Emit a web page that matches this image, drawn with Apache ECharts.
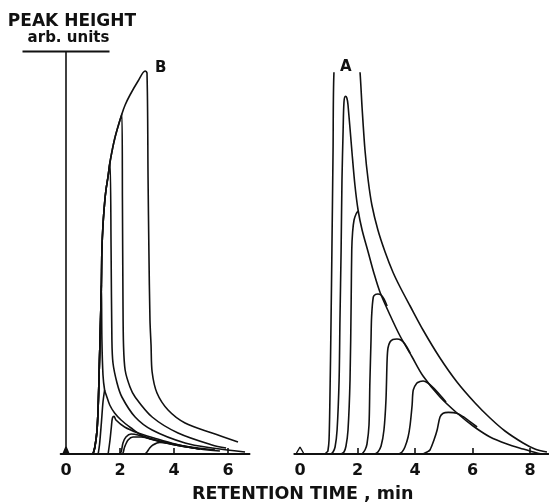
<!DOCTYPE html>
<html lang="en">
<head>
  <meta charset="UTF-8">
  <title>Peak height vs retention time</title>
  <style>
    html, body { margin: 0; padding: 0; background: #fff; }
    #chart { width: 549px; height: 502px; }
  </style>
</head>
<body>
  <div id="chart"></div>

  <script src="https://cdn.jsdelivr.net/npm/echarts@6/dist/echarts.min.js"></script>
  <script>
    // axis ticks / labels (retention time, min)
    const labelsB = [0, 2, 4, 6];
    const ticksB = [2, 4, 6];
    const labelsA = [0, 2, 4, 6, 8];
    const ticksA = [2, 4, 6, 8];

    // panel B: common diffuse front, each peak leaves it at its maximum
    const frontB = [[1.00, 0], [1.07, 1.75], [1.15, 6], [1.20, 13.5], [1.24, 23.5], [1.28, 33.5],
      [1.31, 42.25], [1.33, 51], [1.37, 57.25], [1.43, 62.75], [1.48, 66], [1.56, 69.5], [1.63, 73],
      [1.81, 79], [2.07, 85], [2.19, 87.25], [2.37, 89.75], [2.67, 93.25], [2.93, 95.75]];
    const topsB = [2.93, 2.07, 1.63, 1.31];
    const tailB1 = [[3.00, 95.25], [3.04, 68.5], [3.07, 51], [3.11, 33.5], [3.15, 27.25], [3.19, 20.5],
      [3.37, 15.25], [3.78, 11], [4.41, 7.75], [5.41, 5.25], [6.37, 3.0]];
    const tailB2 = [[2.09, 63.5], [2.11, 38.5], [2.13, 27.25], [2.19, 21], [2.37, 16.75], [2.56, 14.25],
      [3.19, 9.25], [4.15, 5.25], [5.41, 2.25], [5.93, 1.5]];
    const tailB3 = [[1.67, 51], [1.70, 28.5], [1.74, 22.75], [1.89, 17.75], [2.07, 14.25], [2.56, 9.25],
      [3.19, 6], [4.41, 2.75], [5.41, 1.5], [6.63, 0.5]];
    const tailB4 = [[1.33, 28.5], [1.37, 19.75], [1.43, 16], [1.49, 14.75], [1.62, 12.25], [1.80, 10.25],
      [2.04, 8.5], [2.41, 6.5], [2.78, 4.75], [3.29, 3.5], [3.78, 2.75], [4.59, 1.75], [5.52, 1]];
    const peakB5 = [[1.19, 0], [1.24, 2.25], [1.31, 7.75], [1.37, 13], [1.43, 16]];
    const peakB6 = [[1.56, 0], [1.63, 3.5], [1.68, 6.75], [1.72, 9], [1.78, 9.4], [1.85, 8.5], [2.17, 6.75],
      [2.67, 5.25], [3.26, 4], [4.04, 2.5], [4.96, 1.25]];
    const peakB7 = [[1.96, 0], [2.04, 0.5], [2.11, 2.75], [2.22, 4.25], [2.41, 5], [2.67, 4.75], [3.11, 3.75],
      [3.85, 2.5], [4.96, 1.25]];
    const peakB8 = [[2.04, 0], [2.11, 0.25], [2.17, 1.75], [2.30, 3.5], [2.48, 4.25], [2.78, 4.25], [3.30, 3.5],
      [4.04, 2.25], [4.96, 1.25]];
    const peakB9 = [[2.93, 0], [3.00, 0.5], [3.10, 1.5], [3.22, 2.25], [3.47, 2.9], [3.78, 2.75], [4.30, 2],
      [4.96, 1.25], [5.70, 0.75]];
    const injectB = [[-0.11, 0], [0, 1.75], [0.11, 0]];

    // panel A: sharp fronts, tails on a common envelope (A1 runs off scale)
    const peakA1 = [[0.87, 0], [0.94, 0.5], [0.97, 0.75], [1.01, 3.5], [1.04, 13.5], [1.08, 33.5], [1.11, 51],
      [1.15, 76], [1.18, 95.25], [1.63, 138.5], [2.09, 95.25], [2.16, 86.5], [2.26, 76], [2.37, 68.5],
      [2.50, 62.25], [2.71, 56], [2.96, 50.5], [3.23, 45.5], [3.48, 41.75], [3.83, 37], [4.28, 31],
      [4.87, 24], [5.46, 18], [6.09, 12.75], [6.61, 9], [7.13, 5.75], [7.76, 2.75], [8.17, 1.25], [8.59, 0.5]];
    const peakA2 = [[1.08, 0], [1.15, 0.5], [1.22, 1.75], [1.29, 6], [1.36, 18.5], [1.39, 33.5], [1.43, 51],
      [1.46, 68.5], [1.50, 81], [1.53, 88], [1.58, 89.4], [1.63, 89], [1.67, 87.25], [1.81, 75.25], [1.91, 67.25],
      [2.02, 61], [2.16, 56], [2.37, 50.5], [2.57, 45.25], [2.78, 40.5], [3.13, 34.75], [3.48, 29.5], [3.90, 24.25],
      [4.28, 19.5], [4.87, 14.25], [5.46, 10.25], [6.02, 7], [6.61, 4.25], [7.20, 2.5], [7.76, 1.25],
      [8.24, 0.25], [8.42, 0]];
    const peakA3 = [[1.43, 0], [1.53, 0.5], [1.60, 2], [1.67, 6], [1.74, 18.5], [1.78, 38.5], [1.80, 51],
      [1.83, 55.5], [1.88, 58.5], [1.95, 60], [2.02, 60.75]];
    const peakA4 = [[2.16, 0], [2.26, 1], [2.33, 2.5], [2.40, 7.25], [2.43, 17.75], [2.47, 28.5], [2.49, 34.25],
      [2.55, 39.25], [2.63, 39.9], [2.71, 40], [2.82, 39.75], [2.92, 38.75], [3.03, 37]];
    const peakA5 = [[2.61, 0], [2.71, 0.5], [2.82, 2], [2.92, 6], [2.99, 13.5], [3.03, 23.5], [3.06, 26.5],
      [3.13, 28], [3.23, 28.6], [3.37, 28.75], [3.51, 28.5], [3.65, 27.5], [3.83, 25.25]];
    const peakA6 = [[3.44, 0], [3.55, 0.5], [3.65, 1.75], [3.76, 4.25], [3.83, 7.25], [3.90, 12.25], [3.94, 16],
      [4.06, 17.7], [4.17, 18.1], [4.28, 18.25], [4.45, 17.75], [4.63, 16.6], [4.87, 14.75], [5.08, 13]];
    const peakA7 = [[4.28, 0], [4.42, 0.5], [4.52, 1], [4.66, 3.5], [4.77, 6], [4.87, 9.25], [4.98, 10.2],
      [5.16, 10.4], [5.45, 10.2], [5.68, 9.3], [5.91, 8.1], [6.16, 6.75]];
    const injectA = [[-0.14, 0], [0, 1.75], [0.14, 0]];

    const ink = '#111';
    const font = 'DejaVu Sans';

    // peak of panel B = front up to its maximum + its own tail
    function peakB(top, tail) {
      return frontB.filter(p => p[0] <= top).concat(tail);
    }

    function curve(grid, data, extra) {
      return Object.assign({
        type: 'line',
        xAxisIndex: grid,
        yAxisIndex: grid,
        data: data,
        showSymbol: false,
        smooth: 0.3,
        silent: true,
        lineStyle: { color: ink, width: 1.6 }
      }, extra || {});
    }

    // put a letter on one point of a curve
    function tagged(data, at, text, pos) {
      return data.map(p => p[0] === at[0] && p[1] === at[1]
        ? { value: p, label: { show: true, formatter: text, position: pos, align: 'center',
            verticalAlign: 'middle', color: ink, fontFamily: font, fontWeight: 'bold', fontSize: 15 } }
        : p);
    }
    const labelled = { showSymbol: true, showAllSymbol: true, symbolSize: 0 };

    function xAxis(grid, min, max, labels, ticks) {
      return {
        gridIndex: grid, type: 'value', min: min, max: max,
        axisLine: { show: true, lineStyle: { color: ink, width: 1.8 } },
        axisTick: { show: true, inside: true, length: 6, customValues: ticks, lineStyle: { color: ink, width: 1.6 } },
        axisLabel: { customValues: labels, margin: 9, color: ink, fontFamily: font, fontSize: 16, fontWeight: 'bold' },
        splitLine: { show: false }
      };
    }

    const chart = echarts.init(document.getElementById('chart'));
    chart.setOption({
      animation: false,
      backgroundColor: '#fff',
      title: {
        text: 'RETENTION TIME , min',
        left: 192, top: 485, padding: 0,
        textStyle: { fontFamily: font, fontSize: 17.5, fontWeight: 'bold', color: ink }
      },
      grid: [
        { left: 60.6, top: 52, width: 189, height: 402, containLabel: false, outerBoundsMode: 'none' },
        { left: 294.25, top: 73, width: 254.44, height: 381, containLabel: false, outerBoundsMode: 'none' }
      ],
      xAxis: [
        xAxis(0, -0.2, 6.8, labelsB, ticksB),
        xAxis(1, -0.2, 8.65, labelsA, ticksA)
      ],
      yAxis: [
        {
          gridIndex: 0, type: 'value', min: 0, max: 100.5,
          axisLine: { show: true, onZero: true, lineStyle: { color: ink, width: 1.6 } },
          axisTick: { show: false }, axisLabel: { show: false }, splitLine: { show: false },
          name: '{a|PEAK HEIGHT}\n{b|arb. units}\n{c|}',
          nameLocation: 'end',
          nameGap: -1.5,
          nameTextStyle: {
            color: ink,
            rich: {
              a: { fontFamily: font, fontSize: 17, fontWeight: 'bold', color: ink, lineHeight: 10.5, padding: [0, 0, 0, 12] },
              b: { fontFamily: font, fontSize: 15, fontWeight: 'bold', color: ink, lineHeight: 23, padding: [0, 0, 0, 5] },
              c: { width: 87, height: 2, lineHeight: 4, backgroundColor: ink }
            }
          }
        },
        { gridIndex: 1, type: 'value', min: 0, max: 95.25, show: false }
      ],
      series: [
        curve(0, tagged(peakB(topsB[0], tailB1), frontB[frontB.length - 1], 'B', [15.5, -2.5]), labelled),
        curve(0, peakB(topsB[1], tailB2)),
        curve(0, peakB(topsB[2], tailB3)),
        curve(0, peakB(topsB[3], tailB4)),
        curve(0, peakB5),
        curve(0, peakB6),
        curve(0, peakB7),
        curve(0, peakB8),
        curve(0, peakB9),
        curve(0, injectB, { smooth: false, areaStyle: { color: ink, opacity: 1 } }),
        curve(1, peakA1),
        curve(1, tagged(peakA2, [1.58, 89.4], 'A', [0.5, -29]), labelled),
        curve(1, peakA3),
        curve(1, peakA4),
        curve(1, peakA5),
        curve(1, peakA6),
        curve(1, peakA7),
        curve(1, injectA, { smooth: false, lineStyle: { color: ink, width: 1.4 } })
      ]
    });
  </script>
</body>
</html>
